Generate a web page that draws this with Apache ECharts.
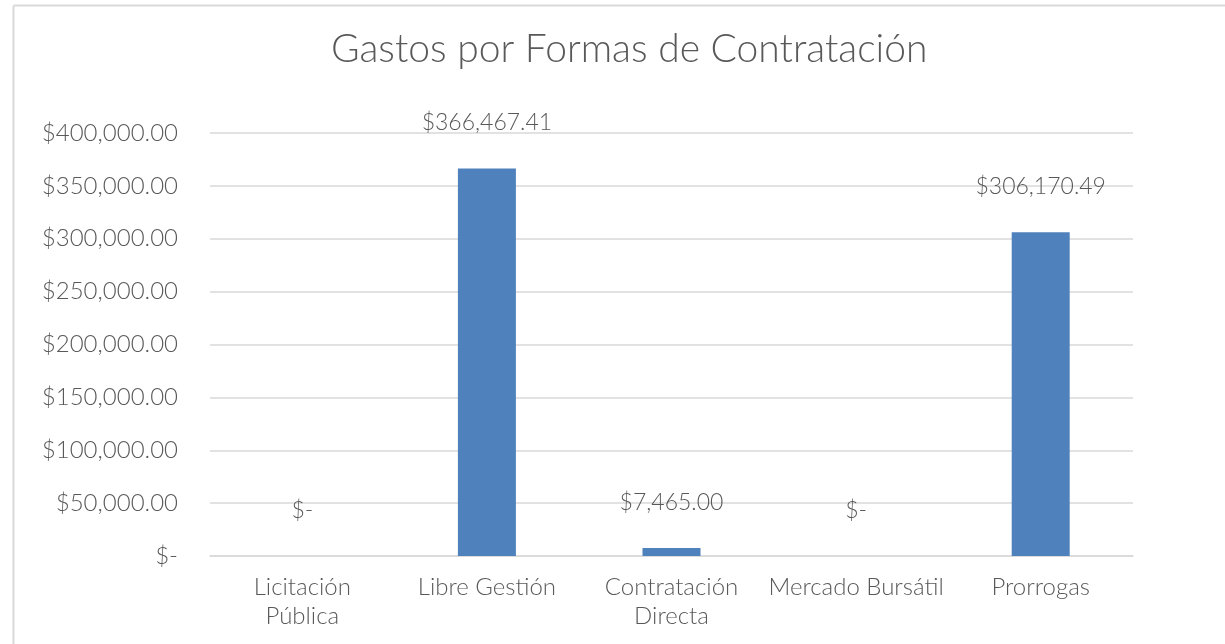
<!DOCTYPE html>
<html>
<head>
<meta charset="utf-8">
<script src="https://cdn.jsdelivr.net/npm/echarts@6/dist/echarts.min.js"></script>
<style>
html,body{margin:0;padding:0;background:#fff;}
#chart{width:1225px;height:644px;}
</style>
</head>
<body>
<div id="chart"></div>
<script>
// categorias y montos
var categorias = ['Licitación\nPública', 'Libre Gestión', 'Contratación\nDirecta', 'Mercado Bursátil', 'Prorrogas'];
var montos = [0, 366467.41, 7465.00, 0, 306170.49];

function moneda(v, dec) {
    if (v == 0) return '$-';
    return '$' + v.toLocaleString('en-US', {minimumFractionDigits: dec, maximumFractionDigits: dec});
}

var fuente = 'Lato, "Open Sans", sans-serif';

var myChart = echarts.init(document.getElementById('chart'));
var option = {
    backgroundColor: '#fff',
    animation: false,
    title: {
        text: 'Gastos por Formas de Contratación',
        left: 326,
        top: 25,
        textStyle: {color: '#595959', fontSize: 39, fontWeight: 300, fontFamily: fuente}
    },
    graphic: [
        {type: 'line', shape: {x1: 13.5, y1: 5.5, x2: 1225, y2: 5.5}, style: {stroke: '#d9d9d9', lineWidth: 2}},
        {type: 'line', shape: {x1: 13.5, y1: 5.5, x2: 13.5, y2: 644}, style: {stroke: '#d9d9d9', lineWidth: 2}}
    ],
    grid: {left: 210, right: 92, top: 133, bottom: 88},
    xAxis: {
        type: 'category',
        data: categorias,
        axisLine: {lineStyle: {color: '#d9d9d9', width: 1.5}},
        axisTick: {show: false},
        axisLabel: {
            color: '#595959', fontSize: 24, fontFamily: fuente, fontWeight: 300,
            lineHeight: 29, margin: 17, interval: 0
        }
    },
    yAxis: {
        type: 'value',
        min: 0,
        max: 400000,
        interval: 50000,
        axisLine: {show: false},
        axisTick: {show: false},
        splitLine: {lineStyle: {color: '#d9d9d9', width: 1.5}},
        axisLabel: {
            color: '#595959', fontSize: 24, fontFamily: fuente, fontWeight: 300, margin: 32,
            formatter: function (v) { return moneda(v, 2); }
        }
    },
    series: [{
        type: 'bar',
        data: montos,
        barWidth: 58,
        itemStyle: {color: '#4f81bd'},
        label: {
            show: true,
            position: 'top',
            distance: 34,
            color: '#595959',
            fontSize: 23,
            fontFamily: fuente,
            fontWeight: 300,
            formatter: function (p) { return moneda(p.value, 2); }
        }
    }]
};
myChart.setOption(option);
</script>
</body>
</html>
